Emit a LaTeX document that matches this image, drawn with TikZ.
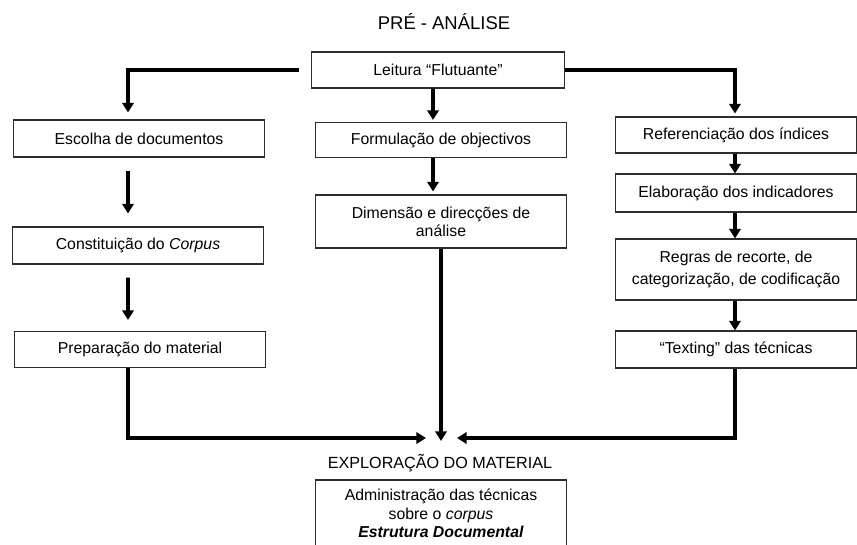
\documentclass[tikz,border=0pt]{standalone}
\usepackage{fontspec}
\setmainfont{Liberation Sans}
\usepackage{tikz}
\usetikzlibrary{arrows.meta,shapes,positioning}
\usepackage{xcolor}
\definecolor{boxgray}{RGB}{45,45,45}
\tikzstyle{box} = [draw=boxgray, line width=0.6pt, rectangle, align=center, minimum width=5.02cm, minimum height=0.74cm, font=\fontsize{9}{10.4}\selectfont]
\tikzstyle{rbox} = [box, minimum width=4.82cm]
\tikzstyle{arrow} = [line width=2.1pt, -{Triangle[length=5.5pt,width=6.5pt]}]
\tikzstyle{link} = [line width=2.1pt]

\begin{document}
\begin{tikzpicture}[x=0.02cm,y=-0.02cm]
\useasboundingbox (0,0) rectangle (857,544);
\clip (0,0) rectangle (857,544);

% Headings
\node[font=\fontsize{10.5}{12}\selectfont] (pre) at (444,22) {PRÉ - ANÁLISE};
\node[font=\fontsize{9.2}{11}\selectfont] (expl) at (440,463) {EXPLORAÇÃO DO MATERIAL};

% Top box
\node[box, minimum width=5.06cm, minimum height=0.72cm] (lei) at (438,70) {Leitura “Flutuante”};

% Left column
\node[box] (esc) at (139,138.5) {Escolha de documentos};
\node[box] (con) at (138,245.5) {Constituição do \textit{Corpus}};
\node[box, minimum height=0.72cm] (prep) at (140,349.5) {Preparação do material};

% Middle column
\node[box, minimum height=0.7cm] (form) at (441,140) {Formulação de objectivos};
\node[box, minimum height=1.06cm] (dim) at (441,221.5) {Dimensão e direcções de\\análise};
\node[box, minimum height=1.34cm] (adm) at (441,513.5) {Administração das técnicas\\sobre o \textit{corpus}\\\textit{\textbf{Estrutura Documental}}};

% Right column
\node[rbox, minimum height=0.72cm] (ref) at (736,135) {Referenciação dos índices};
\node[rbox, minimum height=0.76cm] (ela) at (736,193) {Elaboração dos indicadores};
\node[rbox, minimum height=1.22cm, font=\fontsize{9}{13}\selectfont] (reg) at (736,269.5) {Regras de recorte, de\\categorização, de codificação};
\node[rbox, minimum height=0.74cm] (tex) at (736,349.5) {“Texting” das técnicas};

% Where the three branches meet
\coordinate (meet) at (441,438);

% Leitura to the three columns
\draw[arrow, shorten <=0.24cm, shorten >=0.14cm] (lei.west) -| ([xshift=-0.22cm]esc.north);
\draw[arrow, shorten >=0.06cm] (lei.east) -| ([xshift=-0.02cm]ref.north);
\draw[arrow, shorten >=0.04cm] ([xshift=-0.1cm]lei.south) -- ([xshift=-0.16cm]form.north);

% Left column arrows
\draw[arrow, shorten <=0.26cm, shorten >=0.26cm] ([xshift=-0.22cm]esc.south) -- ([xshift=-0.2cm]con.north);
\draw[arrow, shorten <=0.26cm, shorten >=0.22cm] ([xshift=-0.2cm]con.south) -- ([xshift=-0.24cm]prep.north);

% Middle and right column arrows
\draw[arrow, shorten >=0.06cm] ([xshift=-0.16cm]form.south) -- ([xshift=-0.16cm]dim.north);
\draw[arrow] ([xshift=-0.02cm]ref.south) -- ([xshift=-0.02cm]ela.north);
\draw[arrow] ([xshift=-0.02cm]ela.south) -- ([xshift=-0.02cm]reg.north);
\draw[arrow] ([xshift=-0.02cm]reg.south) -- ([xshift=-0.02cm]tex.north);

% Down to the exploration stage
\draw[arrow] (dim.south) -- ([yshift=-0.06cm]meet);
\draw[arrow] ([xshift=-0.24cm]prep.south) |- ([xshift=-0.3cm]meet);
\draw[arrow] ([xshift=-0.02cm]tex.south) |- ([xshift=0.32cm]meet);
\end{tikzpicture}
\end{document}
